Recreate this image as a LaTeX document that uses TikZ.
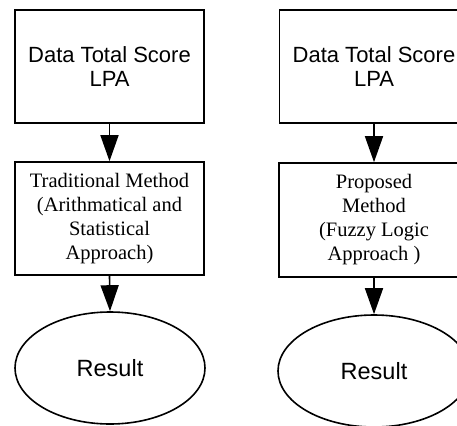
\documentclass[tikz,border=0pt]{standalone}
\usepackage{fontspec}
\setmainfont{Liberation Serif}
\newfontfamily\arialf{Liberation Sans}
\usetikzlibrary{arrows.meta,shapes.geometric}

\tikzset{
  box/.style={draw=black, line width=1.6pt, fill=white, inner sep=0pt,
              minimum width=189pt, minimum height=113pt, align=center},
  databox/.style={box, font=\arialf\fontsize{22}{23.5}\selectfont},
  methodbox/.style={box, font=\fontsize{20.5}{24}\selectfont},
  resultnode/.style={draw=black, line width=1.6pt, ellipse, inner sep=0pt,
              minimum width=190pt, minimum height=112pt,
              font=\arialf\fontsize{23.5}{26}\selectfont},
  arr/.style={line width=1.6pt, -{Triangle[width=18pt,length=26pt]}}
}

\begin{document}
\begin{tikzpicture}[x=1pt, y=-1pt]
  \useasboundingbox (0,0) rectangle (457,425);
  \clip (0,0) rectangle (457,425);

  % left flow: traditional method
  \node[databox]   (l1) at (109.5, 66.5)  {Data Total Score\\LPA};
  \node[methodbox] (l2) at (109.5, 218.5) {Traditional Method\\(Arithmatical and\\Statistical\\Approach)};
  \node[resultnode](l3) at (110, 368)     {Result};

  % right flow: proposed method
  \node[databox]   (r1) at (374, 66.5)  {Data Total Score\\LPA};
  \node[methodbox, minimum width=190pt, minimum height=114pt] (r2) at (374, 220) {Proposed\\Method\\(Fuzzy Logic\\Approach )};
  \node[resultnode, minimum width=192pt](r3) at (374, 371) {Result};

  \draw[arr] (l1.south) -- (l2.north);
  \draw[arr] (l2.south) -- (l3.north);
  \draw[arr] (r1.south) -- (r2.north);
  \draw[arr] (r2.south) -- (r3.north);
\end{tikzpicture}
\end{document}
